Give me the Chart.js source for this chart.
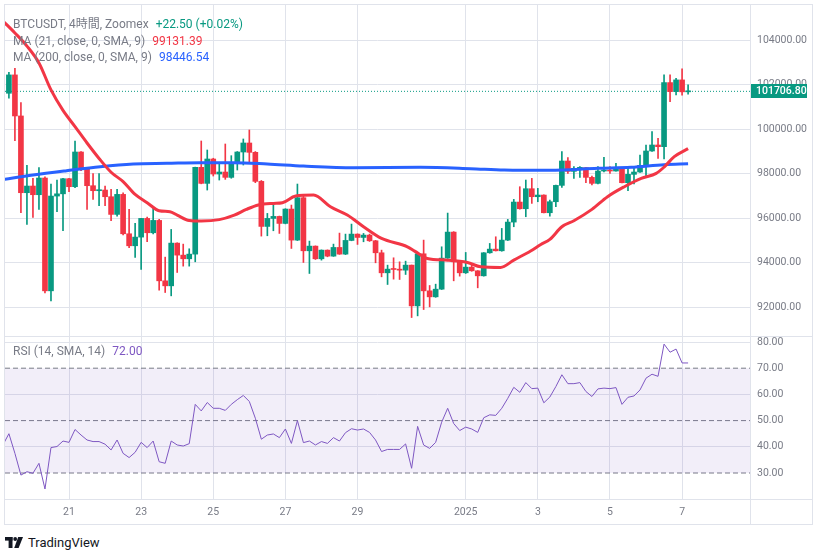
<!DOCTYPE html>
<html>
<head>
<meta charset="utf-8">
<script src="https://cdn.jsdelivr.net/npm/chart.js@4.4.1/dist/chart.umd.min.js"></script>
<style>
  body { margin: 0; background: #fff; font-family: Roboto, "Noto Sans CJK JP", sans-serif; }
  #wrap { position: relative; width: 817px; height: 560px; overflow: hidden; }
  .frame { position: absolute; left: 4px; top: 4px; width: 807px; height: 519px; border: 1px solid #e0e3eb; }
  .hline { position: absolute; left: 5px; width: 807px; height: 1px; background: #e0e3eb; }
  .vline { position: absolute; left: 750px; top: 5px; width: 1px; height: 519px; background: #e0e3eb; }
  canvas { position: absolute; left: 5px; }
  #price { top: 5px; }
  #rsi { top: 336px; }
  .leg { position: absolute; left: 13px; font-size: 12px; line-height: 16px; color: #787b86; white-space: nowrap; }
  .leg span { margin-left: 7px; }
  #logo { position: absolute; left: 5px; top: 535px; height: 14px; display: flex; align-items: center; }
  #logo span { margin-left: 5px; font-size: 13px; color: #131722; }
</style>
</head>
<body>
<div id="wrap">
  <div class="frame"></div>
  <canvas id="price" width="807" height="331"></canvas>
  <canvas id="rsi" width="807" height="188"></canvas>
  <div class="hline" style="top:336px"></div>
  <div class="hline" style="top:499px"></div>
  <div class="vline"></div>
  <div class="leg" id="leg1" style="top:16px"></div>
  <div class="leg" id="leg2" style="top:33px"></div>
  <div class="leg" id="leg3" style="top:49px"></div>
  <div class="leg" id="leg4" style="top:343px"></div>
  <div id="logo">
    <svg width="18" height="11" viewBox="0 0 18 11">
      <rect x="0" y="0" width="7.5" height="3.6" fill="#131722"/>
      <rect x="3.6" y="0" width="3.9" height="11" fill="#131722"/>
      <circle cx="10.2" cy="2" r="1.9" fill="#131722"/>
      <polygon points="13.2,0 18,0 13.6,11 9.2,11" fill="#131722"/>
    </svg>
    <span>TradingView</span>
  </div>
</div>
<script>
  /* =========================
     DATOS (velas 4h, índice 0 = 21 dic 00:00)
  ==========================*/
  const firstIdx = -10;
  const opens = [
    101620, 102445, 100600, 97150, 97450, 97060, 97810, 92740, 97000, 97100,
    97780, 97420, 98980, 98200, 97465, 97240, 97270, 96970, 96175, 97075,
    95305, 94765, 95155, 95995, 95350, 95905, 93190, 92965, 94885, 94345,
    94180, 94390, 98290, 97570, 98665, 97990, 98080, 97840, 98500, 98980,
    99385, 98965, 97660, 95635, 95995, 96085, 95770, 96415, 95020, 96925,
    94540, 94750, 94180, 94570, 94300, 94690, 94390, 95005, 95290, 95140,
    95245, 94990, 94450, 93550, 93715, 93700, 93670, 93895, 92065, 94405,
    92740, 92470, 92815, 94210, 95380, 94045, 93550, 93805, 93640, 93415,
    94450, 94615, 94540, 95020, 95830, 96730, 96430, 97330, 96970, 97045,
    96250, 96745, 97480, 98575, 98110, 98245, 98275, 97840, 97570, 98125,
    98170, 98125, 98275, 97600, 97975, 98080, 98380, 99025, 99295, 99220,
    102100, 101695, 102220, 101684.3
  ];
  const highs = [
    102565, 102745, 101200, 98380, 97795, 98275, 97860, 97540, 97720, 97800,
    97800, 99475, 99000, 98220, 98005, 98005, 97450, 97300, 97300, 97150,
    96400, 95770, 96000, 96050, 96520, 95950, 94255, 95500, 94900, 94840,
    94630, 98300, 99475, 99070, 98700, 98455, 99340, 98815, 99000, 99565,
    99970, 99000, 97700, 96220, 96670, 96100, 96430, 96595, 97540, 97045,
    94975, 94760, 94580, 94580, 94840, 95335, 95290, 95740, 95300, 95320,
    95290, 95010, 94570, 93895, 94225, 94045, 94075, 93900, 94450, 95020,
    92980, 93040, 94720, 96235, 95400, 94060, 94465, 93940, 93650, 94460,
    94870, 95170, 95545, 95950, 96850, 97420, 97720, 97795, 97345, 97050,
    96820, 97490, 98995, 98725, 98320, 98320, 98280, 97900, 98320, 98740,
    98320, 98470, 98280, 98245, 98290, 98845, 99295, 99895, 99595, 102445,
    102445, 102295, 102715, 101995
  ];
  const lows = [
    101395, 99490, 96250, 95725, 96040, 96400, 92650, 92290, 96295, 95440,
    97195, 97375, 98140, 96400, 96850, 96565, 96565, 95890, 96100, 95250,
    94675, 94240, 93700, 94945, 95300, 92770, 92665, 92515, 93565, 93850,
    93850, 94045, 97550, 97270, 97900, 97720, 97750, 97800, 98170, 98395,
    98470, 97600, 95200, 95215, 95440, 95320, 95750, 94645, 95000, 94015,
    93520, 94150, 94120, 94270, 94290, 94380, 94370, 94990, 94825, 94945,
    94960, 94000, 93370, 93025, 93265, 93250, 93475, 91540, 91615, 91900,
    92020, 92450, 92800, 94200, 93190, 93400, 93520, 93620, 92875, 93400,
    94430, 94530, 94520, 95000, 95620, 96410, 96070, 96670, 96745, 96240,
    96100, 96520, 97390, 98020, 97795, 97840, 97600, 97495, 97540, 98080,
    98020, 98120, 97590, 97240, 97540, 98060, 97900, 99010, 98695, 98665,
    101245, 101545, 101530, 101575
  ];
  const closes = [
    102445, 100600, 97150, 97450, 97060, 97810, 92740, 97000, 97100, 97780,
    97420, 98980, 98200, 97465, 97240, 97270, 96970, 96175, 97075, 95305,
    94765, 95155, 95995, 95350, 95905, 93190, 92965, 94885, 94345, 94180,
    94390, 98290, 97570, 98665, 97990, 98080, 97840, 98500, 98980, 99385,
    98965, 97660, 95635, 95995, 96085, 95770, 96415, 95020, 96925, 94540,
    94750, 94180, 94570, 94300, 94690, 94390, 95005, 95290, 95140, 95245,
    94990, 94450, 93550, 93715, 93700, 93670, 93895, 92065, 94405, 92740,
    92470, 92815, 94210, 95380, 94045, 93550, 93805, 93640, 93415, 94450,
    94615, 94540, 95020, 95830, 96730, 96430, 97330, 96970, 97045, 96250,
    96745, 97480, 98575, 98110, 98245, 98275, 97840, 97570, 98125, 98170,
    98125, 98275, 97600, 97975, 98080, 98380, 99025, 99295, 99220, 102100,
    101695, 102220, 101684.3, 101706.8
  ];

  // medias móviles (índice de vela, precio)
  const ma21Idx = [-11, -9, -7, -5, -3, -1, 1, 3, 5, 7, 9, 11, 13, 15, 16.8, 18, 20, 22, 25, 27.5,
    29.5, 31.5, 34, 35.5, 37.7, 40.7, 43.5, 46.3, 49, 52, 56.3, 57.5, 59.6, 63, 66.3, 68.5, 71.8,
    74, 76.8, 78.5, 80, 82, 84, 87, 89.6, 92.4, 95.2, 97.7, 99, 100.7, 103];
  const ma21Val = [104870, 104330, 103740, 102980, 101770, 100850, 100120, 99385, 98690, 98070,
    97650, 97070, 96700, 96340, 96295, 96140, 95900, 95875, 95940, 96145, 96400, 96600, 96670,
    96700, 97000, 97045, 96520, 96145, 95620, 95095, 94720, 94525, 94195, 94120, 94015, 93820,
    93790, 94120, 94530, 94825, 95050, 95620, 95890, 96400, 96970, 97420, 97795, 98020, 98300,
    98770, 99131.39];
  const ma200Idx = [-11, -6, -0.4, 5.2, 10.7, 16.3, 21.8, 27.4, 33, 39, 47.4, 58.5, 66.8, 72.4,
    80, 88, 93.5, 99, 103];
  const ma200Val = [97740, 97945, 98140, 98320, 98440, 98470, 98500, 98500, 98440, 98350, 98275,
    98290, 98230, 98170, 98155, 98245, 98290, 98410, 98446.54];

  const rsiFirstIdx = -11;
  const rsiValues = [
    40.7, 45.0, 37.5, 29.2, 30.5, 29.9, 33.7, 23.9, 39.7, 40.1, 42.2,
    41.7, 46.6, 44.5, 42.6, 42.0, 42.0, 41.0, 38.8, 42.6, 37.5,
    35.9, 37.9, 41.7, 39.7, 42.2, 34.3, 33.7, 42.2, 40.7, 40.3,
    41.2, 56.2, 53.7, 56.9, 54.7, 54.7, 53.9, 56.2, 58.0, 59.6,
    57.3, 50.9, 42.9, 44.5, 44.9, 43.5, 46.8, 41.3, 50.0, 41.6,
    42.2, 40.7, 42.0, 41.3, 43.5, 42.2, 45.4, 46.9, 46.4, 46.8,
    45.5, 42.6, 38.2, 39.0, 39.0, 39.0, 41.1, 31.8, 47.8, 40.7,
    39.4, 41.7, 49.4, 54.7, 48.9, 46.2, 47.5, 46.8, 45.5, 51.1,
    52.2, 52.0, 54.7, 58.5, 62.7, 60.8, 64.5, 62.2, 62.4, 56.8,
    59.0, 63.0, 67.5, 64.1, 64.1, 64.5, 61.1, 59.2, 62.1, 62.4,
    62.2, 62.6, 56.2, 58.9, 59.4, 61.7, 66.2, 67.7, 66.9, 79.2,
    76.1, 77.3, 72.0, 72.0
  ];

  const priceTicks = [92000, 94000, 96000, 98000, 100000, 102000, 104000];
  const rsiTicks = [30, 40, 50, 60, 70, 80];
  const rsiLevels = [70, 50, 30];
  const dayTickIdx = [0, 12, 24, 36, 48, 66, 78, 90, 102];
  const dayTickLabels = ["21", "23", "25", "27", "29", "2025", "3", "5", "7"];

  const symbolText = "BTCUSDT, 4時間, Zoomex";
  const change = 22.5, changePct = 0.02;
  const lastPrice = closes[closes.length - 1];

  /* =========================
     ESTILO
  ==========================*/
  const GREEN = "#089981";
  const RED = "#F23645";
  const BLUE = "#2962FF";
  const PURPLE = "#7E57C2";
  const GRID = "#e0e3eb";
  const TXT = "#787b86";
  const FONT = "Roboto, sans-serif";

  const X_MIN = -10.65, X_MAX = 113.3;
  const P_MIN = 90710, P_MAX = 105587;
  const R_MIN = 20.08, R_MAX = 82.29;

  /* =========================
     LEYENDAS
  ==========================*/
  document.getElementById("leg1").innerHTML = symbolText +
    '<span style="color:' + GREEN + '">+' + change.toFixed(2) + " (+" + changePct.toFixed(2) + "%)</span>";
  document.getElementById("leg2").innerHTML = "MA (21, close, 0, SMA, 9)" +
    '<span style="color:' + RED + '">' + ma21Val[ma21Val.length - 1].toFixed(2) + "</span>";
  document.getElementById("leg3").innerHTML = "MA (200, close, 0, SMA, 9)" +
    '<span style="color:' + BLUE + '">' + ma200Val[ma200Val.length - 1].toFixed(2) + "</span>";
  document.getElementById("leg4").innerHTML = "RSI (14, SMA, 14)" +
    '<span style="color:' + PURPLE + '">' + rsiValues[rsiValues.length - 1].toFixed(2) + "</span>";

  /* =========================
     VELAS
  ==========================*/
  const wicks = opens.map((o, k) => ({ x: k + firstIdx, y: [lows[k], highs[k]] }));
  const bodies = opens.map((o, k) => ({ x: k + firstIdx, y: [o, closes[k]] }));
  const candleColors = opens.map((o, k) => (closes[k] >= o ? GREEN : RED));

  const ma21 = ma21Idx.map((x, k) => ({ x, y: ma21Val[k] }));
  const ma200 = ma200Idx.map((x, k) => ({ x, y: ma200Val[k] }));
  const rsi = rsiValues.map((v, k) => ({ x: k + rsiFirstIdx, y: v }));

  const setTicks = (list) => (s) => { s.ticks = list.map((v) => ({ value: v })); };

  const lastPriceLabel = {
    id: "lastPriceLabel",
    afterDraw(chart) {
      const { ctx, scales } = chart;
      const y = scales.y;
      const py = Math.round(y.getPixelForValue(lastPrice));
      ctx.save();
      ctx.fillStyle = GREEN;
      ctx.fillRect(y.left, py - 7, 57, 14);
      ctx.fillStyle = "#fff";
      ctx.font = "500 10.5px " + FONT;
      ctx.textBaseline = "middle";
      ctx.fillText(lastPrice.toFixed(2), y.left + 6, py + 0.5);
      ctx.restore();
    },
  };

  new Chart(document.getElementById("price"), {
    type: "bar",
    data: {
      datasets: [
        {
          type: "line",
          data: [{ x: X_MIN, y: lastPrice }, { x: X_MAX, y: lastPrice }],
          borderColor: GREEN,
          borderWidth: 1,
          borderDash: [1, 2],
          pointRadius: 0,
          order: 5,
        },
        { data: wicks, backgroundColor: candleColors, barThickness: 1, grouped: false, order: 4 },
        { data: bodies, backgroundColor: candleColors, barThickness: 5, minBarLength: 1, grouped: false, order: 3 },
        {
          type: "line",
          data: ma200,
          borderColor: BLUE,
          borderWidth: 3,
          pointRadius: 0,
          cubicInterpolationMode: "monotone",
          order: 2,
        },
        {
          type: "line",
          data: ma21,
          borderColor: RED,
          borderWidth: 3,
          pointRadius: 0,
          cubicInterpolationMode: "monotone",
          order: 1,
        },
      ],
    },
    options: {
      responsive: false,
      animation: false,
      events: [],
      layout: { padding: 0 },
      plugins: { legend: { display: false }, tooltip: { enabled: false } },
      scales: {
        x: {
          type: "linear",
          min: X_MIN,
          max: X_MAX,
          offset: false,
          afterBuildTicks: setTicks(dayTickIdx),
          ticks: { display: false },
          grid: { color: GRID, drawTicks: false, offset: false },
          border: { display: false },
          afterFit: (s) => { s.height = 0; s.paddingLeft = 0; s.paddingRight = 0; },
        },
        y: {
          position: "right",
          min: P_MIN,
          max: P_MAX,
          afterBuildTicks: setTicks(priceTicks),
          ticks: { callback: (v) => v.toFixed(2), color: TXT, font: { family: FONT, size: 10.5 }, padding: 7 },
          grid: { color: GRID, drawTicks: false },
          border: { display: false },
          afterFit: (s) => { s.width = 62; s.paddingTop = 0; s.paddingBottom = 0; },
        },
      },
    },
    plugins: [lastPriceLabel],
  });

  /* =========================
     RSI
  ==========================*/
  const levelSets = rsiLevels.map((lv, k) => ({
    type: "line",
    data: [{ x: X_MIN, y: lv }, { x: X_MAX, y: lv }],
    borderColor: TXT,
    borderWidth: 1,
    borderDash: [5, 3],
    pointRadius: 0,
    fill: k === 0 ? { target: { value: rsiLevels[rsiLevels.length - 1] } } : false,
    backgroundColor: "rgba(126, 87, 194, 0.1)",
    order: 3,
  }));

  new Chart(document.getElementById("rsi"), {
    type: "line",
    data: {
      datasets: levelSets.concat([
        { data: rsi, borderColor: PURPLE, borderWidth: 1, pointRadius: 0, fill: false, order: 1 },
      ]),
    },
    options: {
      responsive: false,
      animation: false,
      events: [],
      layout: { padding: 0 },
      plugins: { legend: { display: false }, tooltip: { enabled: false } },
      scales: {
        x: {
          type: "linear",
          min: X_MIN,
          max: X_MAX,
          afterBuildTicks: setTicks(dayTickIdx),
          ticks: {
            autoSkip: false,
            maxRotation: 0,
            callback: (v) => dayTickLabels[dayTickIdx.indexOf(v)],
            color: TXT,
            font: { family: FONT, size: 10.5 },
            padding: 7,
          },
          grid: { color: GRID, drawTicks: false },
          border: { display: false },
          afterFit: (s) => { s.height = 25; s.paddingLeft = 0; s.paddingRight = 0; },
        },
        y: {
          position: "right",
          min: R_MIN,
          max: R_MAX,
          afterBuildTicks: setTicks(rsiTicks),
          ticks: { callback: (v) => v.toFixed(2), color: TXT, font: { family: FONT, size: 10.5 }, padding: 7 },
          grid: {
            color: (c) => (c.tick && c.tick.value % 20 === 0 ? GRID : "rgba(0,0,0,0)"),
            drawTicks: false,
          },
          border: { display: false },
          afterFit: (s) => { s.width = 62; s.paddingTop = 0; s.paddingBottom = 0; },
        },
      },
    },
  });
</script>
</body>
</html>
